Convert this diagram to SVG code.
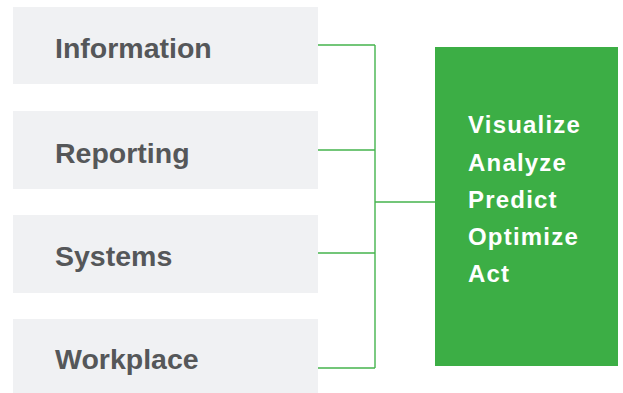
<svg xmlns="http://www.w3.org/2000/svg" width="623" height="393" viewBox="0 0 623 393">
  <style>
    .box { fill: #f0f1f3; }
    .lbl { font-family: "Liberation Sans", Arial, sans-serif; font-weight: bold; font-size: 28.5px; fill: #555759; }
    .out { font-family: "Liberation Sans", Arial, sans-serif; font-weight: bold; font-size: 24px; fill: #ffffff; letter-spacing: 1.2px; }
    .conn { fill: none; stroke: #45b44e; stroke-width: 1.4; }
  </style>
  <rect width="623" height="393" fill="#ffffff"/>
  <g id="connectors">
    <path class="conn" d="M318 45 H375 M318 150 H375 M318 253 H375 M318 368 H375 M375 45 V368 M375 202 H435"/>
  </g>
  <g id="node-information">
    <rect class="box" x="13" y="7" width="305" height="77"/>
    <text class="lbl" x="55" y="58">Information</text>
  </g>
  <g id="node-reporting">
    <rect class="box" x="13" y="111" width="305" height="78"/>
    <text class="lbl" x="55" y="163">Reporting</text>
  </g>
  <g id="node-systems">
    <rect class="box" x="13" y="215" width="305" height="78"/>
    <text class="lbl" x="55" y="266">Systems</text>
  </g>
  <g id="node-workplace">
    <rect class="box" x="13" y="319" width="305" height="74"/>
    <text class="lbl" x="55" y="369">Workplace</text>
  </g>
  <g id="node-actions">
    <rect x="435" y="47" width="183" height="319" fill="#3cae45"/>
    <text class="out" x="468" y="133">Visualize</text>
    <text class="out" x="468" y="171">Analyze</text>
    <text class="out" x="468" y="208">Predict</text>
    <text class="out" x="468" y="245">Optimize</text>
    <text class="out" x="468" y="282">Act</text>
  </g>
</svg>
